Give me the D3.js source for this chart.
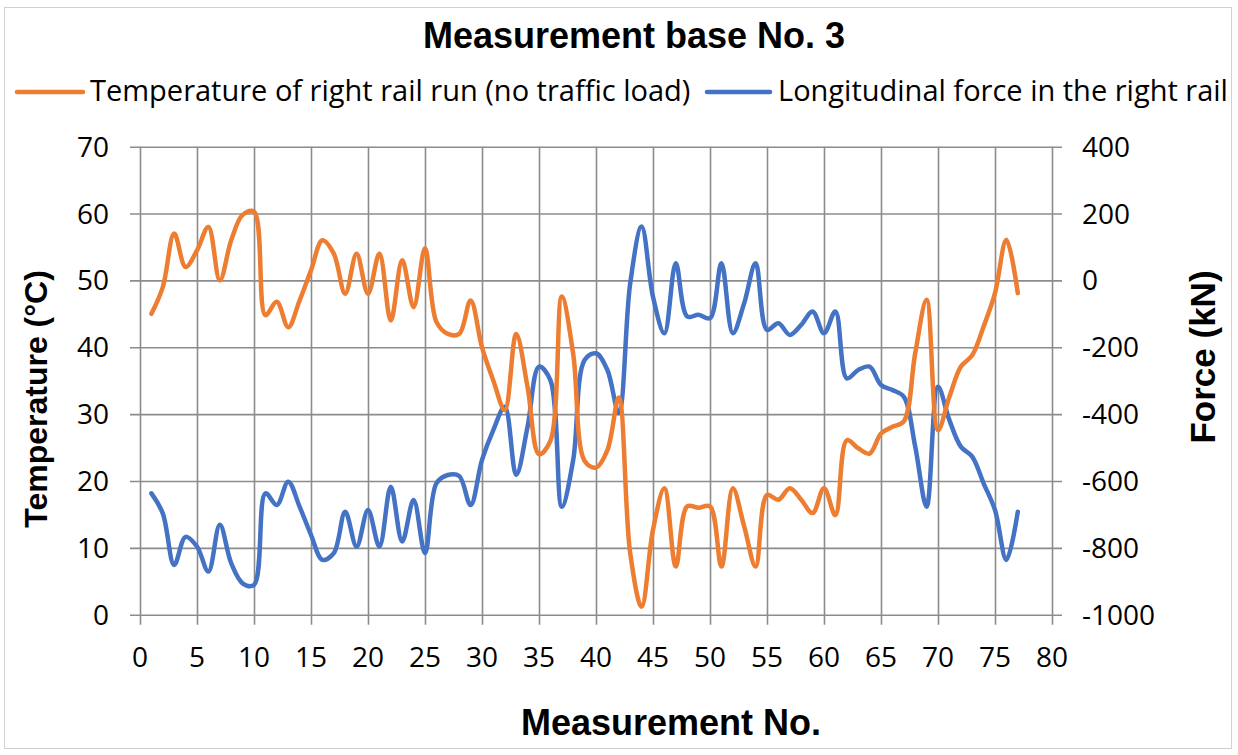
<!DOCTYPE html>
<html>
<head>
<meta charset="utf-8">
<script src="https://cdn.jsdelivr.net/npm/d3@7"></script>
<style>
  body { margin: 0; background: #fff; }
  svg { display: block; }
</style>
</head>
<body>
<svg id="chart" width="1238" height="755"></svg>
<script>
const measurementNo = [1, 2, 3, 4, 5, 6, 7, 8, 9, 10, 11, 12, 13, 14, 15, 16, 17, 18, 19, 20,
  21, 22, 23, 24, 25, 26, 27, 28, 29, 30, 31, 32, 33, 34, 35, 36, 37, 38, 39, 40,
  41, 42, 43, 44, 45, 46, 47, 48, 49, 50, 51, 52, 53, 54, 55, 56, 57, 58, 59, 60,
  61, 62, 63, 64, 65, 66, 67, 68, 69, 70, 71, 72, 73, 74, 75, 76, 77]

// temperature of right rail run, °C
const temperature = [45, 49, 57, 52, 54.5, 58, 50, 56, 59.8, 60.3, 44.8, 46.8, 43, 47, 51.5, 56, 54, 48, 54, 48,
  54, 44, 53, 46, 54.8, 43.8, 42, 42, 47, 40, 35, 30.6, 42, 34, 24, 26, 47.6, 39, 23, 22,
  24.6, 32.5, 9.2, 1.2, 12.7, 18.9, 7.2, 16.2, 16, 16.2, 7.2, 18.9, 13.2, 7.2, 17.9, 17.2, 18.9, 17.2, 15.2, 18.9,
  14.9, 26.1, 24.9, 24.1, 27.1, 28.1, 28.9, 39.1, 47.1, 27.6, 32.6, 37.1, 38.8, 43.1, 48.1, 56.1, 48.1]

// longitudinal force in the right rail, kN
const force = [-637, -697, -851, -767, -796, -871, -731, -846, -906, -911, -637, -672, -602, -677, -761, -836, -816, -692, -796, -687,
  -796, -617, -781, -657, -816, -607, -582, -585, -672, -537, -447, -378, -582, -437, -258, -298, -677, -537, -238, -218,
  -268, -397, -9, 161, -49, -158, 51, -108, -103, -113, 51, -158, -68, 51, -148, -128, -163, -133, -93, -158,
  -93, -293, -268, -258, -313, -328, -348, -497, -677, -318, -418, -497, -527, -607, -687, -836, -692]

const xTicks = [0, 5, 10, 15, 20, 25, 30, 35, 40, 45, 50, 55, 60, 65, 70, 75, 80]
const tempTicks = [0, 10, 20, 30, 40, 50, 60, 70]
const forceTicks = [-1000, -800, -600, -400, -200, 0, 200, 400]

const seriesNames = ['Temperature of right rail run (no traffic load)', 'Longitudinal force in the right rail']
const Colors = ['#ED7D31', '#4472C4']
const GridColor = '#8c8c8c'
const LabelFont = "'Open Sans', 'Noto Sans', sans-serif"
const TitleFont = "'Liberation Sans', Arial, sans-serif"

const plot = { left: 140, right: 1052, top: 146.7, bottom: 614.7 }

const svg = d3.select('#chart')

// chart frame
svg.append('rect')
  .attr('x', 4.5).attr('y', 7.5)
  .attr('width', 1227).attr('height', 741)
  .attr('fill', '#fff')
  .attr('stroke', '#d0d0d0')
  .attr('stroke-width', 1)

const x = d3.scaleLinear([0, 80], [plot.left, plot.right])
const yTemp = d3.scaleLinear([0, 70], [plot.bottom, plot.top])
const yForce = d3.scaleLinear([-1000, 400], [plot.bottom, plot.top])

// grid lines (they run a little past the plot, like tick marks)
const grid = svg.append('g').classed('grid', true)
grid.append('g')
  .attr('transform', `translate(${plot.left - 10} 0)`)
  .call(d3.axisRight(yTemp).tickValues(tempTicks).tickSize(plot.right - plot.left + 20).tickFormat(''))
grid.append('g')
  .attr('transform', `translate(0 ${plot.bottom + 10})`)
  .call(d3.axisTop(x).tickValues(xTicks).tickSize(plot.bottom - plot.top + 10).tickFormat(''))
grid.selectAll('.domain').remove()
grid.selectAll('line')
  .attr('stroke', GridColor)
  .attr('stroke-width', 1.6)

// tick labels
function tickLabels(className, values, fx, fy, anchor) {
  svg.append('g')
    .classed(className, true)
    .selectAll('text')
    .data(values)
    .join('text')
    .attr('x', fx)
    .attr('y', fy)
    .attr('text-anchor', anchor)
    .attr('font-family', LabelFont)
    .attr('font-size', 28)
    .attr('fill', '#000')
    .text(d => d)
}
tickLabels('y-left', tempTicks, 109, d => yTemp(d) + 10, 'end')
tickLabels('y-right', forceTicks, 1082, d => yForce(d) + 10, 'start')
tickLabels('x-bottom', xTicks, d => x(d), 667, 'middle')

// series
const smooth = d3.curveCatmullRom.alpha(0.5)
const lineTemp = d3.line()
  .x((d, i) => x(measurementNo[i]))
  .y(d => yTemp(d))
  .curve(smooth)
const lineForce = d3.line()
  .x((d, i) => x(measurementNo[i]))
  .y(d => yForce(d))
  .curve(smooth)

svg.append('path')
  .datum(force)
  .attr('d', lineForce)
  .attr('fill', 'none')
  .attr('stroke', Colors[1])
  .attr('stroke-width', 4.5)
  .attr('stroke-linejoin', 'round')
  .attr('stroke-linecap', 'round')

svg.append('path')
  .datum(temperature)
  .attr('d', lineTemp)
  .attr('fill', 'none')
  .attr('stroke', Colors[0])
  .attr('stroke-width', 4.5)
  .attr('stroke-linejoin', 'round')
  .attr('stroke-linecap', 'round')

// titles
svg.append('text')
  .attr('x', 634).attr('y', 48)
  .attr('text-anchor', 'middle')
  .attr('font-family', TitleFont)
  .attr('font-weight', 'bold')
  .attr('font-size', 36)
  .text('Measurement base No. 3')

svg.append('text')
  .attr('x', 671).attr('y', 735)
  .attr('text-anchor', 'middle')
  .attr('font-family', TitleFont)
  .attr('font-weight', 'bold')
  .attr('font-size', 36)
  .text('Measurement No.')

svg.append('text')
  .attr('transform', 'translate(47 399) rotate(-90)')
  .attr('text-anchor', 'middle')
  .attr('font-family', TitleFont)
  .attr('font-weight', 'bold')
  .attr('font-size', 32)
  .text('Temperature (°C)')

svg.append('text')
  .attr('transform', 'translate(1215 357) rotate(-90)')
  .attr('text-anchor', 'middle')
  .attr('font-family', TitleFont)
  .attr('font-weight', 'bold')
  .attr('font-size', 35)
  .text('Force (kN)')

// legend
const legendItems = [
  { name: seriesNames[0], color: Colors[0], x0: 17, x1: 83, tx: 90 },
  { name: seriesNames[1], color: Colors[1], x0: 707, x1: 770, tx: 778 },
]
const legend = svg.append('g').classed('legend', true)
legend.selectAll('line')
  .data(legendItems)
  .join('line')
  .attr('x1', d => d.x0).attr('x2', d => d.x1)
  .attr('y1', 92).attr('y2', 92)
  .attr('stroke', d => d.color)
  .attr('stroke-width', 4.5)
  .attr('stroke-linecap', 'round')
legend.selectAll('text')
  .data(legendItems)
  .join('text')
  .attr('x', d => d.tx)
  .attr('y', 101)
  .attr('font-family', LabelFont)
  .attr('font-size', 29)
  .attr('fill', '#000')
  .text(d => d.name)
</script>
</body>
</html>
